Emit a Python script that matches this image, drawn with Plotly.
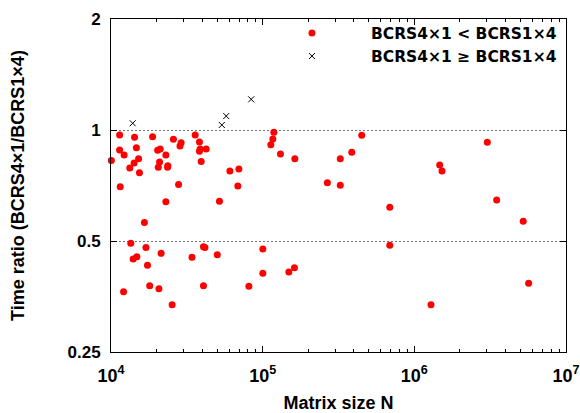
import plotly.graph_objects as go

# Red points: BCRS4x1 < BCRS1x4
red_n = [11400, 14300, 18800, 25800, 35900, 38300, 29000, 28500, 11400, 12200,
         14700, 20300, 21100, 23000, 38700, 38300, 42400, 10050, 15200, 14200,
         13300, 20900, 20500, 23700, 23600, 39300, 15400, 11500, 27900, 23000,
         51900, 60800, 69700, 68600, 118500, 116700, 113200, 131000, 163000, 16600,
         13500, 17000, 14000, 14800, 21400, 17400, 12100, 18000, 20700, 25300,
         34200, 40700, 41600, 40700, 50200, 81100, 100300, 100300, 148800, 162000,
         450000, 387000, 325000, 267000, 325000, 689000, 689000, 1470000, 1522000, 3027000,
         3490000, 5224000, 5670000, 1288000]
red_ratio = [0.970, 0.955, 0.959, 0.944, 0.970, 0.928, 0.924, 0.905, 0.883, 0.856,
             0.895, 0.881, 0.888, 0.856, 0.888, 0.876, 0.888, 0.826, 0.836, 0.814,
             0.789, 0.819, 0.792, 0.800, 0.792, 0.822, 0.766, 0.702, 0.712, 0.639,
             0.641, 0.774, 0.784, 0.705, 0.986, 0.945, 0.912, 0.861, 0.836, 0.561,
             0.493, 0.480, 0.447, 0.453, 0.463, 0.430, 0.364, 0.378, 0.371, 0.336,
             0.452, 0.482, 0.480, 0.378, 0.459, 0.377, 0.476, 0.409, 0.412, 0.423,
             0.967, 0.870, 0.836, 0.719, 0.708, 0.617, 0.487, 0.804, 0.774, 0.926,
             0.646, 0.566, 0.384, 0.336]

# Black crosses: BCRS4x1 >= BCRS1x4
black_n = [13900, 57500, 53800, 84000]
black_ratio = [1.043, 1.091, 1.032, 1.211]

x_tickvals = [1e4, 1e5, 1e6, 1e7]
x_ticktext = ["10<sup>4</sup>", "10<sup>5</sup>", "10<sup>6</sup>", "10<sup>7</sup>"]
x_minor = [m * 10 ** e for e in (4, 5, 6) for m in range(2, 10)]
y_tickvals = [0.25, 0.5, 1, 2]
y_ticktext = ["0.25", "0.5", "1", "2"]

FONT = "Liberation Sans, Arial, sans-serif"

fig = go.Figure()
fig.add_trace(go.Scatter(
    x=red_n, y=red_ratio, mode="markers", name="BCRS4×1 < BCRS1×4",
    marker=dict(color="#ff0000", size=7, symbol="circle", line=dict(width=0)),
    cliponaxis=False,
))
fig.add_trace(go.Scatter(
    x=black_n, y=black_ratio, mode="markers", name="BCRS4×1 ≥ BCRS1×4",
    marker=dict(color="black", size=6, symbol="x-thin", line=dict(width=1, color="black")),
    cliponaxis=False,
))

fig.update_layout(
    width=580, height=413,
    margin=dict(l=111, r=14, t=19, b=61, autoexpand=False),
    paper_bgcolor="white", plot_bgcolor="white",
    font=dict(family=FONT, color="black", size=17, weight="bold"),
    showlegend=True,
    legend=dict(
        x=0.312, y=1.008, xanchor="left", yanchor="top",
        bgcolor="rgba(0,0,0,0)", borderwidth=0,
        font=dict(family="DejaVu Sans, sans-serif", size=15.5, weight="bold"),
        itemwidth=108, tracegroupgap=0,
    ),
)
fig.update_xaxes(
    type="log", range=[4, 7], automargin=False,
    tickmode="array", tickvals=x_tickvals, ticktext=x_ticktext,
    ticks="inside", ticklen=6, tickwidth=1, tickcolor="black",
    showline=True, linecolor="black", linewidth=1, mirror="allticks",
    showgrid=False, zeroline=False,
    tickfont=dict(size=18),
    ticklabelstandoff=7,
    minor=dict(tickvals=x_minor, ticks="inside", ticklen=3, tickwidth=1, tickcolor="black", showgrid=False),
    title=dict(text="Matrix size N", font=dict(size=18), standoff=13),
)
fig.update_yaxes(
    type="log", range=[-0.60206, 0.30103], automargin=False,
    tickmode="array", tickvals=y_tickvals, ticktext=y_ticktext,
    ticks="inside", ticklen=6, tickwidth=1, tickcolor="black",
    showline=True, linecolor="black", linewidth=1, mirror="allticks",
    showgrid=True, gridcolor="#777777", gridwidth=1, griddash="2px,2px",
    zeroline=False,
    tickfont=dict(size=17),
    ticklabelstandoff=6,
    title=dict(text="Time ratio (BCRS4×1/BCRS1×4)", font=dict(size=18), standoff=38),
)

fig.write_html("out.html")
